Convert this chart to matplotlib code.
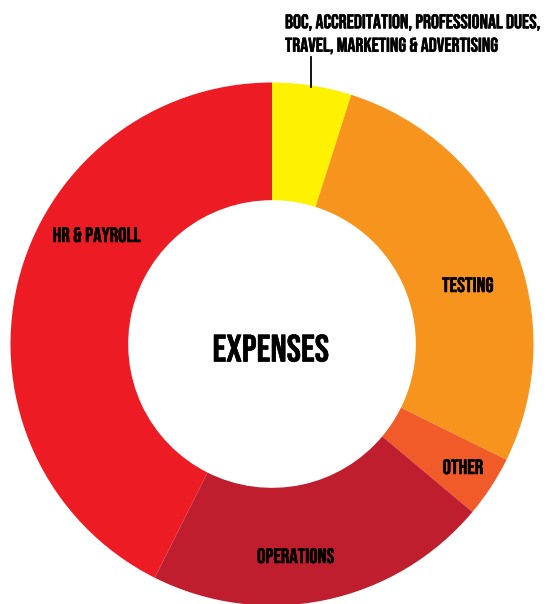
import matplotlib.pyplot as plt
import matplotlib.patheffects as pe

# slices clockwise from 12 o'clock
labels = ['BOC', 'TESTING', 'OTHER', 'OPERATIONS', 'HR & PAYROLL']
shares = [4.9, 27.4, 3.8, 21.3, 42.6]
colors = ['#FFF200', '#F7941D', '#F15A29', '#BE1E2D', '#ED1C24']
callout = ['BOC, ACCREDITATION, PROFESSIONAL DUES,', 'TRAVEL, MARKETING & ADVERTISING']

fam = ['Bebas Neue', 'DejaVu Sans']
# Bebas Neue only ships regular, a thin stroke makes it look bold
bold = [pe.withStroke(linewidth=0.4, foreground='black')]

W, H = 547, 604
fig = plt.figure(figsize=(W / 100, H / 100), dpi=100)
ax = fig.add_axes([0, 0, 1, 1])

cx, cy, r = 272, H - 344, 261.5
ax.pie(shares, colors=colors, startangle=90, counterclock=False,
       center=(cx, cy), radius=r,
       wedgeprops=dict(width=r * 0.45, linewidth=0))
ax.set_xlim(0, W)
ax.set_ylim(0, H)
ax.set_aspect('auto')
ax.axis('off')

# slice labels, baseline positions
lab_pos = {'TESTING': (468, 292), 'OTHER': (463, 474),
           'OPERATIONS': (296, 563), 'HR & PAYROLL': (97, 242)}
for name, (x, y) in lab_pos.items():
    ax.text(x, H - y, name, ha='center', va='baseline', fontsize=15,
            family=fam, color='black', path_effects=bold)

ax.text(271, H - 361.5, 'EXPENSES', ha='center', va='baseline', fontsize=27.5,
        family=fam, color='black', path_effects=bold)

# callout for the small yellow slice
for i, line in enumerate(callout):
    ax.text(285, H - (28.3 + 23.4 * i), line, ha='left', va='baseline',
            fontsize=14.3, family=fam, color='black', path_effects=bold)
ax.plot([311, 311], [H - 57, H - 87], color='black', lw=1.3)

fig.savefig('out.png', dpi=100)
